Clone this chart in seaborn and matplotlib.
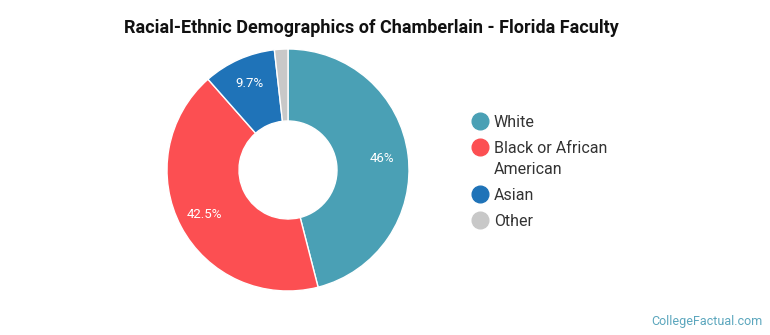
import matplotlib
matplotlib.use("Agg")
import matplotlib.pyplot as plt
from matplotlib.lines import Line2D
import numpy as np
import seaborn as sns

categories = ["White", "Black or African\nAmerican", "Asian", "Other"]
values = [46.0, 42.5, 9.7, 1.8]
pct_labels = ["46%", "42.5%", "9.7%", ""]
colors = ["#4aa0b5", "#fc4f52", "#1f73b8", "#c8c8c8"]

sns.set_theme(style="white")
plt.rcParams["font.family"] = ["Roboto", "DejaVu Sans"]

W, H = 770, 335
fig = plt.figure(figsize=(W / 100, H / 100), dpi=100)
cx, cy, r = 288, 170, 121
ax = fig.add_axes([(cx - r) / W, (H - cy - r) / H, 2 * r / W, 2 * r / H])
wedges, _ = ax.pie(values, colors=colors, startangle=90, counterclock=False,
                   radius=1.0, wedgeprops=dict(width=0.595, edgecolor="white", linewidth=1))
ang = 90.0
for v, lab in zip(values, pct_labels):
    mid = ang - v / 100 * 360 / 2
    ang -= v / 100 * 360
    if lab:
        rr = 0.78
        ax.text(rr * np.cos(np.radians(mid)), rr * np.sin(np.radians(mid)), lab,
                ha="center", va="center", color="white", fontsize=9.5)
ax.set_xlim(-1, 1)
ax.set_ylim(-1, 1)
ax.set_aspect("equal")
ax.axis("off")

fig.text(371 / W, 1 - 28 / H, "Racial-Ethnic Demographics of Chamberlain - Florida Faculty",
         ha="center", va="center", fontsize=13, fontweight="bold", color="#111111")

# legend drawn manually for exact spacing
y = 121
for lab, c in zip(categories, colors):
    fig.add_artist(Line2D([480 / W], [1 - y / H], marker="o", linestyle="",
                          markersize=12, markerfacecolor=c, markeredgecolor=c,
                          transform=fig.transFigure))
    for j, line in enumerate(lab.split("\n")):
        fig.text(494 / W, 1 - (y + 21 * j) / H, line, ha="left", va="center_baseline",
                 fontsize=11.5, color="#333333")
    y += 26 + 21 * lab.count("\n")

fig.text(762 / W, 1 - 321 / H, "CollegeFactual.com", ha="right", va="center",
         fontsize=9, color="#5ba6bd")

fig.savefig("out.png", dpi=100)
